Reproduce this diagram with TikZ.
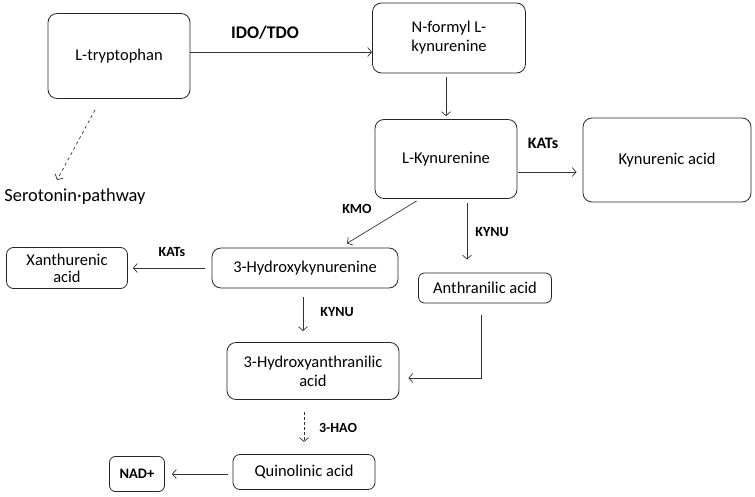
\documentclass[tikz,border=0pt]{standalone}
\usepackage{fontspec}
\setmainfont{Carlito}
\usepackage{tikz}
\usetikzlibrary{arrows.meta}

\begin{document}
\begin{tikzpicture}[x=1pt,y=-1pt,
	box/.style={draw=black!85, line width=0.8pt, rounded corners=9pt, align=center, inner sep=2pt, font=\fontsize{16.5}{19}\selectfont},
	enz/.style={font=\bfseries\fontsize{14}{16}\selectfont},
	conv/.style={draw=black!80, line width=0.7pt, -{Straight Barb[length=4pt,width=9pt]}}]
			\useasboundingbox (0,0) rectangle (755,497);
			
			\node(trp) [box, minimum width=142pt, minimum height=85pt] at (119,56){L-tryptophan};
			\node(nfk) [box, minimum width=153pt, minimum height=70pt] at (449,38){N-formyl L-\\kynurenine};
			\node(kyn) [box, minimum width=142pt, minimum height=79pt] at (446,159){L-Kynurenine};
			\node(kyna) [box, minimum width=168pt, minimum height=84pt] at (667,160){Kynurenic acid};
			\node(hk) [box, minimum width=186pt, minimum height=40pt] at (305,268){3-Hydroxykynurenine};
			\node(xa) [box, minimum width=121pt, minimum height=41pt, rounded corners=7pt] at (67,268){Xanthurenic\\[-2pt]acid};
			\node(aa) [box, minimum width=133pt, minimum height=30pt, rounded corners=6pt] at (485,288){Anthranilic acid};
			\node(haa) [box, minimum width=172pt, minimum height=57pt] at (313,371){3-Hydroxyanthranilic\\acid};
			\node(qa) [box, minimum width=142pt, minimum height=35pt, rounded corners=7pt] at (304,472){Quinolinic acid};
			\node(nad) [box, minimum width=55pt, minimum height=35pt, rounded corners=6pt, font=\bfseries\fontsize{14.5}{17}\selectfont] at (137,474){NAD+};
			\node(sero) [font=\fontsize{18.4}{21}\selectfont, inner sep=0pt] at (75,197){Serotonin·pathway};
			
			\coordinate(s1) at (95,110);
			\coordinate(s2) at (57,180);
			
			\draw[conv] ([yshift=4]trp.east) -- ([yshift=4]trp.east -| nfk.west);
			\draw[conv, dashed] (s1) -- (s2);
			\draw[conv, shorten <=4pt, shorten >=3pt] (kyn.north |- nfk.south) -- (kyn.north);
			\draw[conv, shorten <=1pt, shorten >=6pt] ([yshift=-13]kyn.east) -- ([yshift=-13]kyn.east -| kyna.west);
			\draw[conv, shorten <=4pt, shorten >=8pt] ([xshift=-26]kyn.south) -- ([xshift=35]hk.north);
			\draw[conv, shorten <=4pt, shorten >=13pt] ([xshift=21]kyn.south) -- ([xshift=21]kyn.south |- aa.north);
			\draw[conv, shorten <=7pt, shorten >=5pt] (hk.west) -- (xa.east);
			\draw[conv, shorten <=9pt, shorten >=11pt] ([xshift=-2]hk.south) -- ([xshift=-2]hk.south |- haa.north);
			\draw[conv, shorten <=12pt, shorten >=9pt] ([xshift=-4]aa.south) |- ([yshift=-7]haa.east);
			\draw[conv, dashed, dash pattern=on 3pt off 2pt, shorten <=12pt, shorten >=12pt] (qa.north |- haa.south) -- (qa.north);
			\draw[conv, shorten <=5pt, shorten >=7pt] ([yshift=-2]qa.west) -- ([yshift=-2]qa.west -| nad.east);
			
			\node(ido) [enz, font=\bfseries\fontsize{17.8}{20}\selectfont] at (265,33){IDO/TDO};
			\node(kat1) [enz, font=\bfseries\fontsize{16}{18}\selectfont] at (543,143){KATs};
			\node(kmo) [enz] at (357,209){KMO};
			\node(kynu1) [enz] at (492,232){KYNU};
			\node(kat2) [enz] at (172,252){KATs};
			\node(kynu2) [enz] at (337,312){KYNU};
			\node(hao) [enz] at (338,428){3-HAO};
			
		\end{tikzpicture}
\end{document}
